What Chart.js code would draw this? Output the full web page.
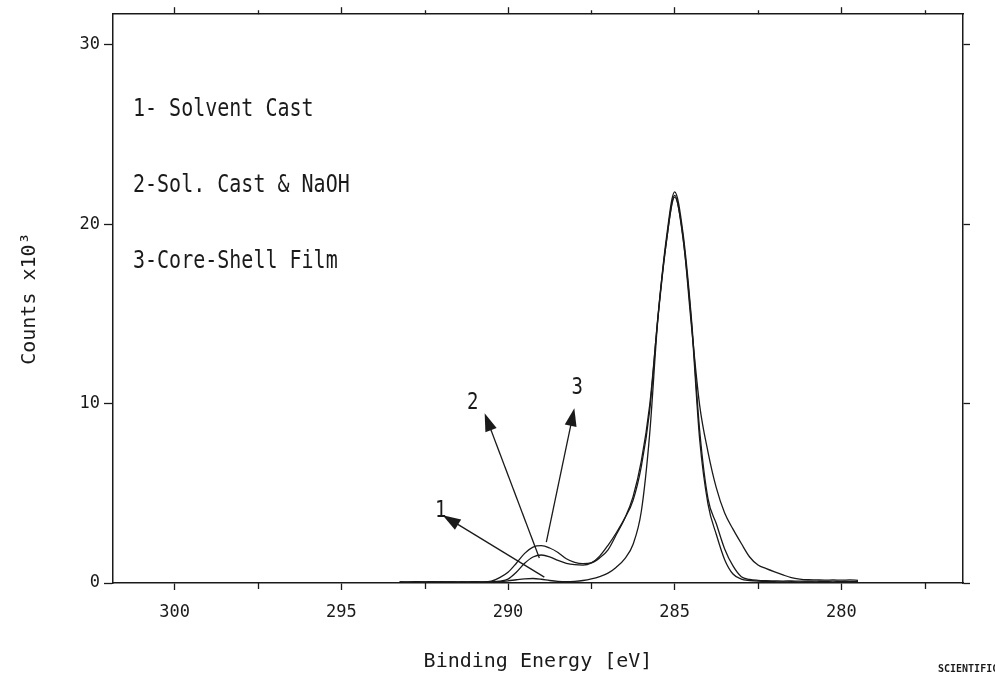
<!DOCTYPE html>
<html>
<head>
<meta charset="utf-8">
<script src="https://cdn.jsdelivr.net/npm/chart.js@4.4.0/dist/chart.umd.min.js"></script>
<style>
  html, body { margin: 0; padding: 0; background: #fff; overflow: hidden; }
  #wrap { width: 995px; height: 674px; position: relative; }
</style>
</head>
<body>
<div id="wrap"><canvas id="xps"></canvas></div>
<script>
// binding energy grid (eV)
const energies = [
  293.25, 293.0, 292.75, 292.5, 292.25, 292.0, 291.75, 291.5, 291.25, 291.0,
  290.75, 290.5, 290.25, 290.0, 289.75, 289.5, 289.25, 289.0, 288.75, 288.5,
  288.25, 288.0, 287.75, 287.5, 287.25, 287.0, 286.75, 286.5, 286.25, 286.0,
  285.75, 285.5, 285.25, 285.0, 284.75, 284.5, 284.25, 284.0, 283.75, 283.5,
  283.25, 283.0, 282.75, 282.5, 282.25, 282.0, 281.75, 281.5, 281.25, 281.0,
  280.75, 280.5, 280.25, 280.0, 279.75, 279.5
];

// counts x10^3
const solventCast = [
  0.06, 0.04, 0.06, 0.05, 0.07, 0.05, 0.06, 0.04, 0.05, 0.06,
  0.05, 0.06, 0.08, 0.12, 0.18, 0.23, 0.25, 0.21, 0.14, 0.09,
  0.07, 0.09, 0.14, 0.23, 0.36, 0.55, 0.88, 1.35, 2.15, 4.0,
  8.3, 14.8, 19.0, 21.6, 19.2, 14.6, 8.0, 4.4, 2.7, 1.3,
  0.5, 0.22, 0.14, 0.1, 0.08, 0.07, 0.06, 0.07, 0.05, 0.06,
  0.05, 0.06, 0.04, 0.05, 0.04, 0.03
];
const solCastNaOH = [
  0.06, 0.05, 0.07, 0.05, 0.06, 0.04, 0.06, 0.05, 0.06, 0.05,
  0.05, 0.07, 0.11, 0.22, 0.6, 1.1, 1.45, 1.56, 1.46, 1.26,
  1.1, 1.02, 1.0, 1.12, 1.5, 2.1, 2.8, 3.6, 4.6, 6.5,
  9.6, 14.9, 19.2, 21.8, 19.5, 14.8, 8.5, 4.7, 3.3, 1.9,
  0.95, 0.35, 0.2, 0.15, 0.13, 0.12, 0.11, 0.12, 0.1, 0.11,
  0.1, 0.09, 0.1, 0.08, 0.09, 0.07
];
const coreShell = [
  0.04, 0.06, 0.05, 0.06, 0.05, 0.07, 0.05, 0.06, 0.05, 0.07,
  0.06, 0.1, 0.3, 0.6, 1.1, 1.65, 2.0, 2.08, 1.95, 1.7,
  1.35, 1.15, 1.08, 1.12, 1.4, 1.85, 2.7, 3.6, 4.8, 6.8,
  9.9, 14.8, 19.0, 21.5, 19.3, 14.4, 9.9, 7.3, 5.3, 3.9,
  3.0, 2.2, 1.45, 1.0, 0.8, 0.62, 0.45, 0.3, 0.22, 0.18,
  0.17, 0.16, 0.17, 0.16, 0.17, 0.15
];

const seriesNames = ['1- Solvent Cast', '2-Sol. Cast & NaOH', '3-Core-Shell Film'];
const xTicks = [300, 295, 290, 285, 280];
const xMinorTicks = [297.5, 292.5, 287.5, 282.5, 277.5];
const yTicks = [0, 10, 20, 30];

// arrow callouts in data units: [energy, counts]
const calloutLabels = ['1', '2', '3'];
const calloutTails = [[288.91, 0.33], [289.06, 1.39], [288.85, 2.28]];
const calloutTips = [[291.96, 3.78], [290.70, 9.46], [288.01, 9.74]];
const calloutText = [[292.02, 4.01], [291.06, 10.02], [287.92, 10.85]];

const ink = '#1a1a1a';
const mono = "'DejaVu Sans Mono', monospace";
const xMin = 276.35, xMax = 301.85;
const yMin = 0, yMax = 31.7;

function tallText(ctx, text, x, y, size, align) {
  ctx.save();
  ctx.translate(x, y);
  ctx.scale(1, 1.2);
  ctx.font = size + 'px ' + mono;
  ctx.fillStyle = ink;
  ctx.textAlign = align;
  ctx.textBaseline = 'middle';
  ctx.fillText(text, 0, 0);
  ctx.restore();
}

const extras = {
  id: 'extras',
  afterDraw(chart) {
    const ctx = chart.ctx;
    const xs = chart.scales.x, ys = chart.scales.y;
    const area = chart.chartArea;

    // minor ticks, bottom and top
    ctx.save();
    ctx.strokeStyle = ink;
    ctx.lineWidth = 1.3;
    xMinorTicks.forEach(v => {
      const px = Math.round(xs.getPixelForValue(v)) + 0.5;
      ctx.beginPath();
      ctx.moveTo(px, area.bottom);
      ctx.lineTo(px, area.bottom + 6);
      ctx.moveTo(px, area.top);
      ctx.lineTo(px, area.top - 4);
      ctx.stroke();
    });
    ctx.restore();

    // series names
    seriesNames.forEach((t, i) => tallText(ctx, t, 133, 110 + i * 76, 20, 'left'));

    // arrows
    calloutLabels.forEach((lab, i) => {
      const x0 = xs.getPixelForValue(calloutTails[i][0]);
      const y0 = ys.getPixelForValue(calloutTails[i][1]);
      const x1 = xs.getPixelForValue(calloutTips[i][0]);
      const y1 = ys.getPixelForValue(calloutTips[i][1]);
      const ang = Math.atan2(y1 - y0, x1 - x0);
      const headLen = 18, headHalf = 6;
      ctx.save();
      ctx.strokeStyle = ink;
      ctx.fillStyle = ink;
      ctx.lineWidth = 1.3;
      ctx.beginPath();
      ctx.moveTo(x0, y0);
      ctx.lineTo(x1 - Math.cos(ang) * headLen * 0.8, y1 - Math.sin(ang) * headLen * 0.8);
      ctx.stroke();
      const bx = x1 - Math.cos(ang) * headLen, by = y1 - Math.sin(ang) * headLen;
      ctx.beginPath();
      ctx.moveTo(x1, y1);
      ctx.lineTo(bx + Math.sin(ang) * headHalf, by - Math.cos(ang) * headHalf);
      ctx.lineTo(bx - Math.sin(ang) * headHalf, by + Math.cos(ang) * headHalf);
      ctx.closePath();
      ctx.fill();
      ctx.restore();
      tallText(ctx, lab, xs.getPixelForValue(calloutText[i][0]),
        ys.getPixelForValue(calloutText[i][1]), 19, 'center');
    });

    // cropped publisher stamp
    ctx.save();
    ctx.font = 'bold 10px ' + mono;
    ctx.fillStyle = ink;
    ctx.textBaseline = 'middle';
    ctx.fillText('SCIENTIFIC', 938, 669);
    ctx.restore();
  }
};

function makeSet(label, vals) {
  return {
    label,
    data: energies.map((e, i) => ({ x: e, y: vals[i] })),
    borderColor: ink,
    borderWidth: 1.3,
    pointRadius: 0,
    fill: false,
    cubicInterpolationMode: 'monotone'
  };
}

const gridBase = { drawOnChartArea: false, drawTicks: true, color: ink, tickWidth: 1.3 };
const borderBase = { display: true, color: ink, width: 1.5 };

new Chart(document.getElementById('xps'), {
  type: 'line',
  data: {
    datasets: [
      makeSet(seriesNames[0], solventCast),
      makeSet(seriesNames[1], solCastNaOH),
      makeSet(seriesNames[2], coreShell)
    ]
  },
  options: {
    responsive: true,
    maintainAspectRatio: false,
    devicePixelRatio: 1,
    animation: false,
    layout: { padding: 0 },
    plugins: { legend: { display: false }, tooltip: { enabled: false } },
    scales: {
      x: {
        type: 'linear', position: 'bottom', reverse: true, min: xMin, max: xMax,
        afterBuildTicks: s => { s.ticks = xTicks.map(v => ({ value: v })); },
        afterFit: s => { s.height = 91; },
        grid: { ...gridBase, tickLength: 7 },
        border: borderBase,
        ticks: { font: { family: mono, size: 17 }, color: ink, padding: 12, maxRotation: 0, autoSkip: false },
        title: { display: true, text: 'Binding Energy [eV]', color: ink,
          font: { family: mono, size: 20 }, padding: { top: 0, bottom: 0 } }
      },
      x2: {
        type: 'linear', position: 'top', reverse: true, min: xMin, max: xMax,
        afterBuildTicks: s => { s.ticks = xTicks.map(v => ({ value: v })); },
        afterFit: s => { s.height = 13; },
        grid: { ...gridBase, tickLength: 7 },
        border: borderBase,
        ticks: { display: false }
      },
      y: {
        type: 'linear', position: 'left', min: yMin, max: yMax,
        afterBuildTicks: s => { s.ticks = yTicks.map(v => ({ value: v })); },
        afterFit: s => { s.width = 113; },
        grid: { ...gridBase, tickLength: 9 },
        border: borderBase,
        ticks: { font: { family: mono, size: 17 }, color: ink, padding: 4 },
        title: { display: true, text: 'Counts x10³', color: ink,
          font: { family: mono, size: 20 }, padding: { top: 18, bottom: 0 } }
      },
      y2: {
        type: 'linear', position: 'right', min: yMin, max: yMax,
        afterBuildTicks: s => { s.ticks = yTicks.map(v => ({ value: v })); },
        afterFit: s => { s.width = 32; },
        grid: { ...gridBase, tickLength: 7 },
        border: borderBase,
        ticks: { display: false }
      }
    }
  },
  plugins: [extras]
});
</script>
</body>
</html>
